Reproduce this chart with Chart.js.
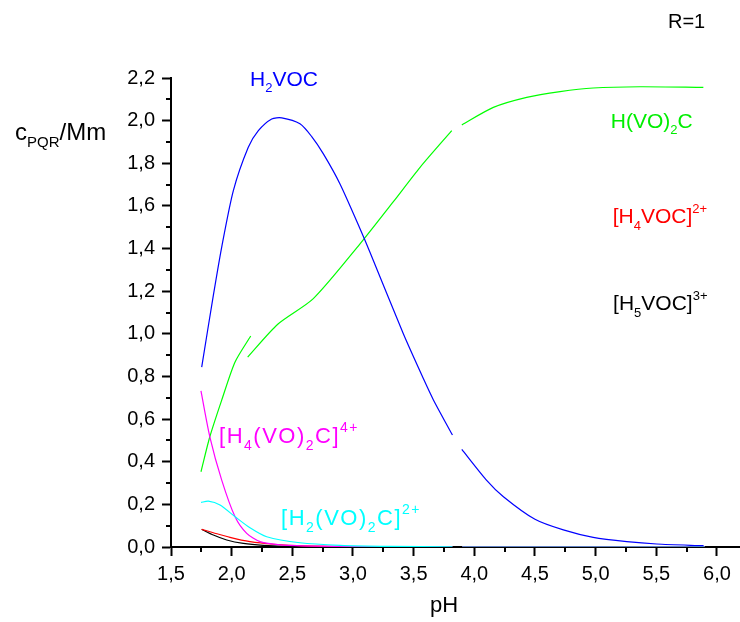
<!DOCTYPE html>
<html>
<head>
<meta charset="utf-8">
<script src="https://cdn.jsdelivr.net/npm/chart.js@4.4.1/dist/chart.umd.min.js"></script>
<style>
  html, body { margin: 0; padding: 0; background: #fff; }
  #wrap { position: relative; width: 740px; height: 622px; }
</style>
</head>
<body>
<div id="wrap"><canvas id="speciesChart"></canvas></div>
<script>
// axis ticks
const xMajor = [1.5, 2.0, 2.5, 3.0, 3.5, 4.0, 4.5, 5.0, 5.5, 6.0];
const xMinor = [1.75, 2.25, 2.75, 3.25, 3.75, 4.25, 4.75, 5.25, 5.75];
const yMajor = [0, 0.2, 0.4, 0.6, 0.8, 1.0, 1.2, 1.4, 1.6, 1.8, 2.0, 2.2];
const yMinor = [0.1, 0.3, 0.5, 0.7, 0.9, 1.1, 1.3, 1.5, 1.7, 1.9, 2.1];

// series (pH, c); null c = break in the curve
const h2vocPH = [1.753, 1.849, 1.918, 2.014, 2.137, 2.22, 2.33, 2.413, 2.563, 2.66, 2.756, 2.893, 3.058, 3.14, 3.415, 3.58, 3.663, 3.82,
                 3.86, 3.897, 4.1, 4.24, 4.5, 4.734, 4.98, 5.257, 5.504, 5.89];
const h2vocC  = [0.844, 1.18, 1.407, 1.672, 1.875, 1.953, 2.008, 2.013, 1.985, 1.925, 1.844, 1.703, 1.493, 1.383, 1.0, 0.79, 0.69, 0.525,
                 null, 0.458, 0.314, 0.236, 0.13, 0.08, 0.045, 0.025, 0.014, 0.006];

const hvo2cPH = [1.747, 1.82, 1.918, 2.028, 2.157,
                 2.15, 2.132, 2.38, 2.673, 3.058, 3.333, 3.553, 3.814,
                 3.86, 3.897, 4.157, 4.432, 4.707, 4.98, 5.366, 5.888];
const hvo2cC  = [0.353, 0.517, 0.689, 0.868, 0.99,
                 null, 0.891, 1.045, 1.165, 1.422, 1.62, 1.781, 1.953,
                 null, 1.98, 2.062, 2.109, 2.136, 2.153, 2.159, 2.156];

const h4vo2cPH = [1.747, 1.82, 1.918, 2.028, 2.124, 2.234, 2.4, 2.7, 3.0, 3.82, 3.86, 3.9, 5.9];
const h4vo2cC  = [0.732, 0.517, 0.314, 0.142, 0.064, 0.025, 0.01, 0.004, 0.002, 0, null, 0, 0];

const h2vo2cPH = [1.747, 1.808, 1.904, 2.028, 2.151, 2.289, 2.563, 2.893, 3.3, 3.82, 3.86, 3.9, 5.9];
const h2vo2cC  = [0.209, 0.215, 0.197, 0.142, 0.09, 0.048, 0.02, 0.008, 0.003, 0.001, null, 0, 0];

const h4vocPH = [1.753, 1.849, 1.986, 2.151, 2.344, 2.6, 3.0, 3.82, 3.86, 3.9, 5.9];
const h4vocC  = [0.083, 0.067, 0.045, 0.025, 0.013, 0.005, 0.001, 0, null, 0, 0];

const h5vocPH = [1.753, 1.849, 1.959, 2.096, 2.261, 2.5, 3.0, 3.82, 3.86, 3.9, 5.9];
const h5vocC  = [0.083, 0.056, 0.033, 0.017, 0.008, 0.002, 0, 0, null, 0, 0];

const FONT = "'Liberation Sans', Arial, sans-serif";
Chart.defaults.font.family = FONT;

function pts(xs, ys) {
    return xs.map((x, i) => ({ x: x, y: ys[i] }));
}

function comma(v) {
    return Number(v).toFixed(1).replace('.', ',');
}

function line(data, color) {
    return { data: data, borderColor: color, borderWidth: 1.2, pointRadius: 0, tension: 0.25, fill: false, spanGaps: false };
}

// text with sub/superscripts: parts = [[text, 'n'|'b'|'p'], ...], sp = extra px per char
function drawRich(ctx, parts, x, y, size, color, sp) {
    sp = sp || 0;
    ctx.fillStyle = color;
    ctx.textBaseline = 'alphabetic';
    ctx.textAlign = 'left';
    let cx = x;
    parts.forEach(([t, k]) => {
        let s = size, dy = 0;
        if (k === 'b') { s = Math.round(size * 0.62); dy = size * 0.3; }
        if (k === 'p') { s = Math.round(size * 0.62); dy = -size * 0.5; }
        ctx.font = s + 'px ' + FONT;
        for (const ch of t) {
            ctx.fillText(ch, cx, y + dy);
            cx += ctx.measureText(ch).width + sp;
        }
    });
}

const minorTicks = {
    id: 'minorTicks',
    afterDraw(chart) {
        const { ctx, chartArea } = chart;
        const x = chart.scales.x, y = chart.scales.y;
        ctx.save();
        ctx.strokeStyle = '#000';
        ctx.lineWidth = 2;
        ctx.beginPath();
        xMinor.forEach(v => {
            const px = Math.round(x.getPixelForValue(v));
            ctx.moveTo(px, chartArea.bottom);
            ctx.lineTo(px, chartArea.bottom + 5);
        });
        yMinor.forEach(v => {
            const py = Math.round(y.getPixelForValue(v));
            ctx.moveTo(chartArea.left, py);
            ctx.lineTo(chartArea.left - 5, py);
        });
        ctx.stroke();
        ctx.restore();
    }
};

const labels = {
    id: 'labels',
    afterDraw(chart) {
        const ctx = chart.ctx;
        const x = chart.scales.x, y = chart.scales.y;
        const at = (px, py) => [x.getPixelForValue(px), y.getPixelForValue(py)];
        ctx.save();
        let p;
        p = at(2.151, 2.164);
        drawRich(ctx, [['H', 'n'], ['2', 'b'], ['VOC', 'n']], p[0], p[1], 21, '#0000ff');
        p = at(5.125, 1.967);
        drawRich(ctx, [['H(VO)', 'n'], ['2', 'b'], ['C', 'n']], p[0], p[1], 21, '#00ee00');
        p = at(5.141, 1.518);
        drawRich(ctx, [['[H', 'n'], ['4', 'b'], ['VOC]', 'n'], ['2+', 'p']], p[0], p[1], 21, '#ff0000');
        p = at(5.144, 1.11);
        drawRich(ctx, [['[H', 'n'], ['5', 'b'], ['VOC]', 'n'], ['3+', 'p']], p[0], p[1], 21, '#000000');
        p = at(1.896, 0.487);
        drawRich(ctx, [['[H', 'n'], ['4', 'b'], ['(VO)', 'n'], ['2', 'b'], ['C]', 'n'], ['4+', 'p']], p[0], p[1], 22, '#ff00ff', 1.5);
        p = at(2.407, 0.103);
        drawRich(ctx, [['[H', 'n'], ['2', 'b'], ['(VO)', 'n'], ['2', 'b'], ['C]', 'n'], ['2+', 'p']], p[0], p[1], 22, '#00ffff', 1.5);
        // axis titles and tag
        drawRich(ctx, [['c', 'n'], ['PQR', 'b'], ['/Mm', 'n']], 15, 140, 24, '#000');
        ctx.font = '22px ' + FONT;
        ctx.fillStyle = '#000';
        ctx.textAlign = 'center';
        ctx.fillText('pH', (chart.chartArea.left + 717) / 2, 612);
        ctx.font = '20px ' + FONT;
        ctx.textAlign = 'left';
        ctx.fillText('R=1', 668, 28);
        ctx.restore();
    }
};

new Chart(document.getElementById('speciesChart'), {
    type: 'line',
    data: {
        datasets: [
            line(pts(h2vo2cPH, h2vo2cC), '#00ffff'),
            line(pts(h2vocPH, h2vocC), '#0000ff'),
            line(pts(h4vo2cPH, h4vo2cC), '#ff00ff'),
            line(pts(hvo2cPH, hvo2cC), '#00ff00'),
            line(pts(h4vocPH, h4vocC), '#ff0000'),
            line(pts(h5vocPH, h5vocC), '#000000')
        ]
    },
    options: {
        responsive: true,
        maintainAspectRatio: false,
        animation: false,
        layout: { padding: { top: 78, right: 0, left: 0, bottom: 0 } },
        plugins: { legend: { display: false }, tooltip: { enabled: false } },
        scales: {
            x: {
                type: 'linear',
                min: 1.5,
                max: 6.19,
                afterBuildTicks: s => { s.ticks = xMajor.map(v => ({ value: v })); },
                afterFit: s => { s.height = 75; },
                ticks: { callback: v => comma(v), color: '#000', font: { size: 20 }, padding: 6, maxRotation: 0, autoSkip: false },
                grid: { drawOnChartArea: false, drawTicks: true, tickLength: 9, tickWidth: 2, tickColor: '#000' },
                border: { display: true, color: '#000', width: 2 }
            },
            y: {
                min: 0,
                max: 2.2,
                afterBuildTicks: s => { s.ticks = yMajor.map(v => ({ value: v })); },
                afterFit: s => { s.width = 171; },
                ticks: { callback: v => comma(v), color: '#000', font: { size: 20 }, padding: 7, autoSkip: false },
                grid: { drawOnChartArea: false, drawTicks: true, tickLength: 9, tickWidth: 2, tickColor: '#000' },
                border: { display: true, color: '#000', width: 2 }
            }
        }
    },
    plugins: [minorTicks, labels]
});
</script>
</body>
</html>
